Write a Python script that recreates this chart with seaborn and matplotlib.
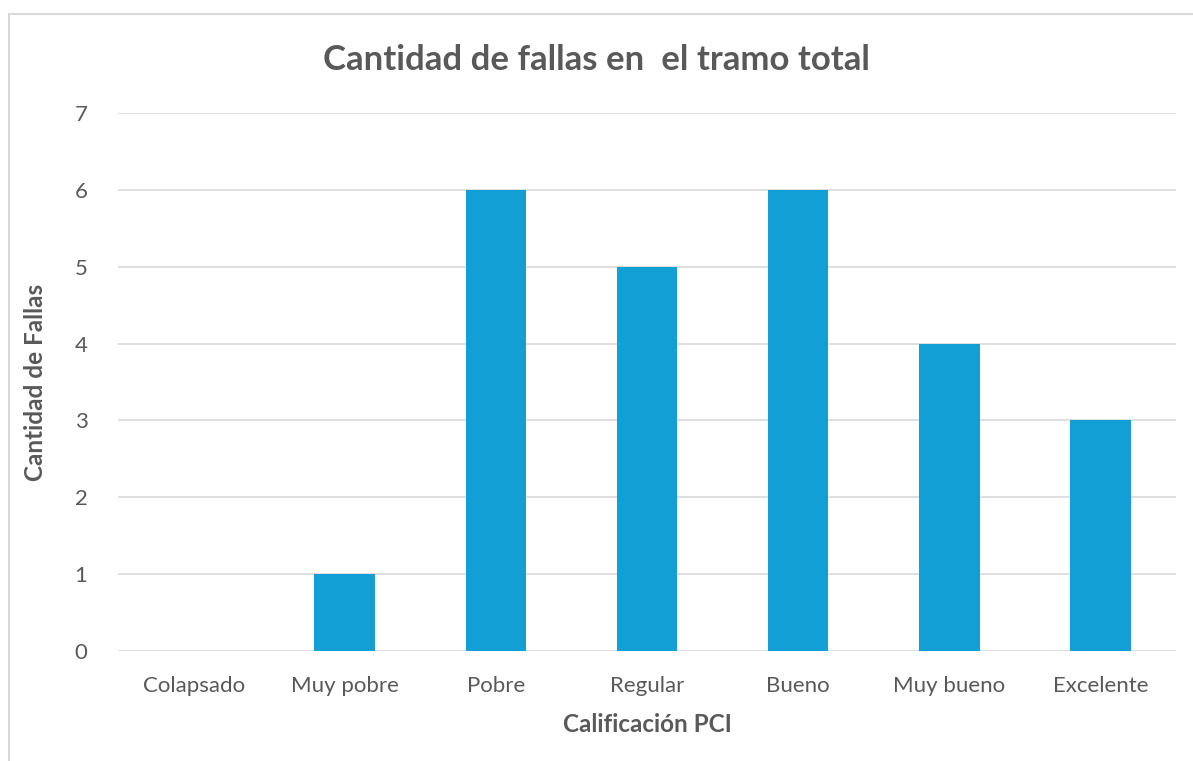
import matplotlib
matplotlib.use('Agg')
import matplotlib.pyplot as plt
import seaborn as sns
import pandas as pd
from matplotlib.patches import Rectangle

categorias = ["Colapsado", "Muy pobre", "Pobre", "Regular", "Bueno", "Muy bueno", "Excelente"]
fallas = [0, 1, 6, 5, 6, 4, 3]

sns.set_style("white")
plt.rcParams['font.family'] = ['Lato', 'DejaVu Sans']

df = pd.DataFrame({"Calificacion": categorias, "Fallas": fallas})

fig = plt.figure(figsize=(11.93, 7.61), dpi=100)
ax = fig.add_axes([118 / 1193, 1 - 651 / 761, (1176 - 118) / 1193, (651 - 113) / 761])

sns.barplot(data=df, x="Calificacion", y="Fallas", color="#119FD6", width=0.4,
            saturation=1, linewidth=0, edgecolor="none", ax=ax, zorder=3)

ax.set_ylim(0, 7)
ax.set_xlim(-0.5, len(categorias) - 0.5)
ax.set_yticks(range(0, 8))
ax.yaxis.grid(True, color="#D9D9D9", linewidth=1.2, zorder=0)
ax.set_axisbelow(True)
for s in ax.spines.values():
    s.set_visible(False)
ax.tick_params(axis='both', length=0, labelsize=16, colors="#595959")
ax.tick_params(axis='x', pad=18)
ax.tick_params(axis='y', pad=22)

ax.set_xlabel("Calificación PCI", fontsize=17.5, fontweight='bold', color="#595959", labelpad=12)
ax.set_ylabel("Cantidad de Fallas", fontsize=17.5, fontweight='bold', color="#595959", labelpad=20)

fig.text(0.5, 1 - 60 / 761, "Cantidad de fallas en  el tramo total", ha='center', va='center',
         fontsize=25, fontweight='bold', color="#595959")

fig.patches.append(Rectangle((9 / 1193, -0.05), 1.2, 1 - 14 / 761 + 0.05, transform=fig.transFigure,
                             fill=False, edgecolor="#D9D9D9", linewidth=1.5))

fig.savefig("out.png", dpi=100)
